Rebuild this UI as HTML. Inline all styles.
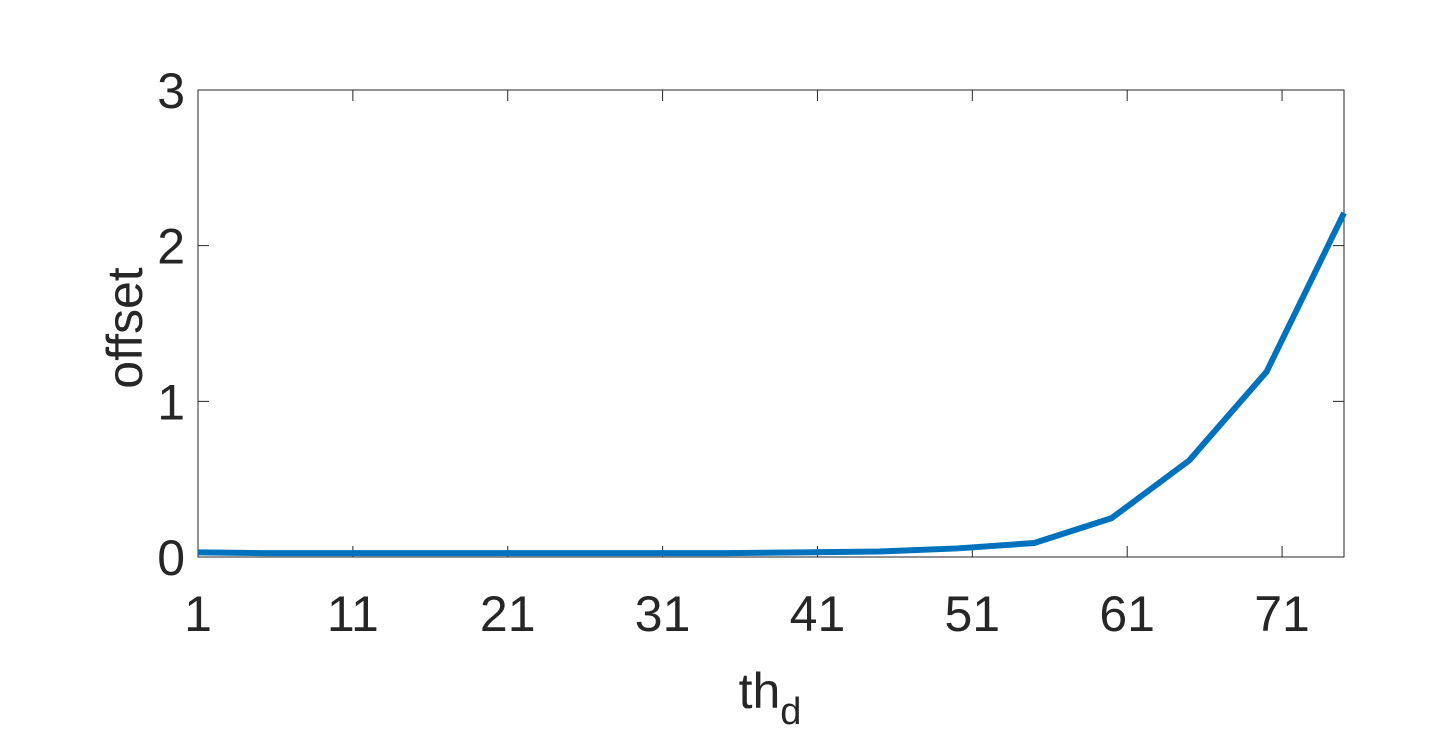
<!DOCTYPE html>
<html><head><meta charset="utf-8"><style>
html,body{margin:0;padding:0;background:#fff;}
svg text{font-family:"Liberation Sans",sans-serif;fill:#262626;}
</style></head><body>
<svg id="chart" width="1451" height="748">
<rect width="1451" height="748" fill="#fff"/>
<g id="axes"></g>
<path id="line" fill="none" stroke="#0072BD" stroke-width="6" stroke-linejoin="round"/>
<text x="770" y="708" font-size="50" text-anchor="middle">th<tspan font-size="38" dy="16">d</tspan></text>
<text transform="translate(142,328) rotate(-90)" font-size="50" text-anchor="middle">offset</text>
</svg>
<script>
const xValues=[1,5,10,15,20,25,30,35,40,45,50,55,60,65,70,75];
const yValues=[0.03,0.025,0.025,0.025,0.025,0.025,0.025,0.025,0.03,0.035,0.055,0.09,0.25,0.62,1.19,2.21];
const xTicks=[1,11,21,31,41,51,61,71];
const yTicks=[0,1,2,3];
const L=198,R=1344,T=90,B=557,xmin=1,xmax=75,ymin=0,ymax=3;
const sx=v=>L+(v-xmin)/(xmax-xmin)*(R-L);
const sy=v=>B-(v-ymin)/(ymax-ymin)*(B-T);
const NS="http://www.w3.org/2000/svg";
const ax=document.getElementById('axes');
const box=document.createElementNS(NS,'rect');
box.setAttribute('x',L);box.setAttribute('y',T);box.setAttribute('width',R-L);box.setAttribute('height',B-T);
box.setAttribute('fill','none');box.setAttribute('stroke','#262626');box.setAttribute('stroke-width','1');


ax.appendChild(box);
xTicks.forEach(t=>{
  const x=sx(t);
  const l=document.createElementNS(NS,'path');
  l.setAttribute('d',`M${x},${B}V${B-11}M${x},${T}V${T+11}`);l.setAttribute('stroke','#262626');
  
  
  ax.appendChild(l);
  const tx=document.createElementNS(NS,'text');
  tx.setAttribute('x',x);tx.setAttribute('y',B+74);tx.setAttribute('font-size','50');tx.setAttribute('text-anchor','middle');
  tx.textContent=t;
  
  
  ax.appendChild(tx);
});
yTicks.forEach(t=>{
  const y=sy(t);
  const l=document.createElementNS(NS,'path');
  l.setAttribute('d',`M${L},${y}H${L+11}M${R},${y}H${R-11}`);l.setAttribute('stroke','#262626');
  
  
  ax.appendChild(l);
  const tx=document.createElementNS(NS,'text');
  tx.setAttribute('x',L-13);tx.setAttribute('y',y+18);tx.setAttribute('font-size','50');tx.setAttribute('text-anchor','end');
  tx.textContent=t;
  
  
  ax.appendChild(tx);
});
document.getElementById('line').setAttribute('d',xValues.map((x,i)=>(i?'L':'M')+sx(x)+','+sy(yValues[i])).join(''));
</script>
</body></html>
